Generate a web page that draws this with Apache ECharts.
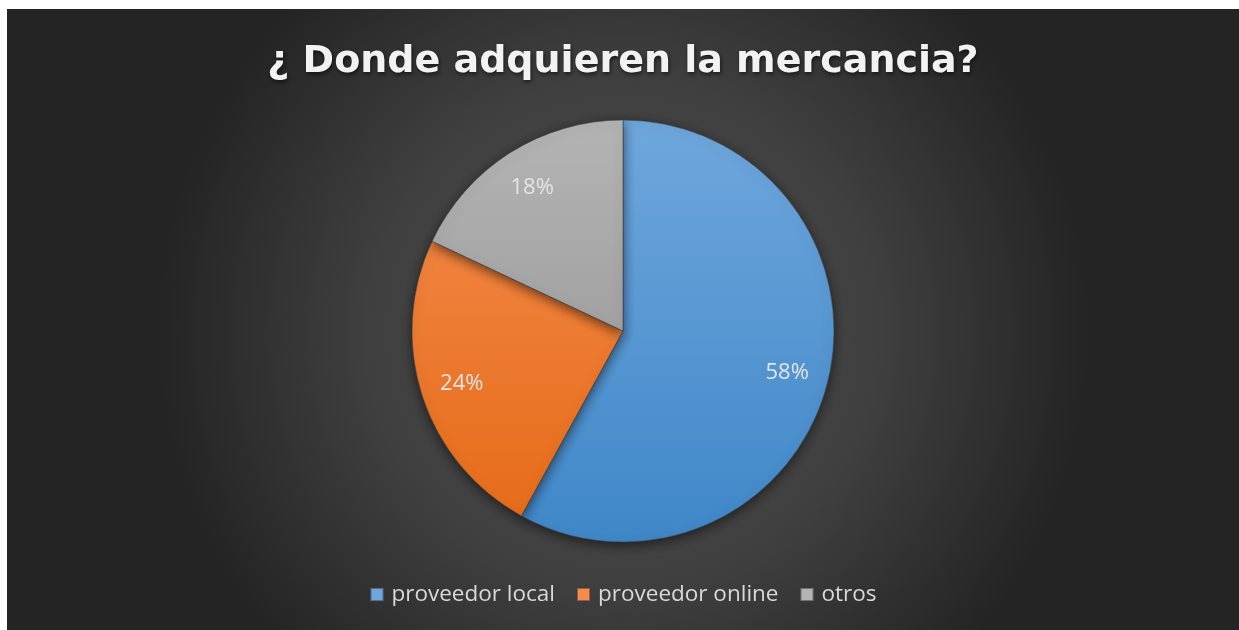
<!DOCTYPE html>
<html>
<head>
<meta charset="utf-8">
<script src="https://cdn.jsdelivr.net/npm/echarts@6/dist/echarts.min.js"></script>
<style>
  html, body { margin: 0; padding: 0; background: #ffffff; }
  #main { position: absolute; left: 7px; top: 9px; width: 1232px; height: 621px; }
</style>
</head>
<body>
<div id="main"></div>
<script>
const titleText = "¿ Donde adquieren la mercancia?";
const categories = ["proveedor local", "proveedor online", "otros"];
const values = [58, 24, 18];

// colores tipo Excel (arriba / abajo del gradiente)
const topColors = ["#6fa7dc", "#f58c4e", "#b4b4b4"];
const bottomColors = ["#3f87c8", "#e56a16", "#8f8f8f"];

const cx = 616, cy = 322, r = 211;

function grad(i) {
  return {
    type: "linear", global: true,
    x: 0, y: cy - r, x2: 0, y2: cy + r,
    colorStops: [
      { offset: 0, color: topColors[i] },
      { offset: 1, color: bottomColors[i] },
    ],
  };
}

const pieData = categories.map((name, i) => ({
  name,
  value: values[i],
  itemStyle: { color: grad(i) },
}));

const option = {
  animation: false,
  backgroundColor: {
    type: "radial", x: 0.5, y: 0.52, r: 0.75,
    colorStops: [
      { offset: 0, color: "#535353" },
      { offset: 0.55, color: "#3f3f3f" },
      { offset: 1, color: "#242424" },
    ],
  },
  title: {
    text: titleText,
    left: "center",
    top: 29,
    textStyle: {
      fontFamily: "DejaVu Sans",
      fontWeight: "bold",
      fontSize: 38,
      color: "#f2f2f2",
      textShadowColor: "rgba(0,0,0,0.6)",
      textShadowBlur: 4,
      textShadowOffsetX: 1,
      textShadowOffsetY: 2,
    },
  },
  legend: {
    data: categories,
    left: "center",
    top: 569,
    itemWidth: 13,
    itemHeight: 13,
    itemGap: 21,
    icon: "rect",
    textStyle: {
      fontFamily: "Open Sans",
      fontSize: 22.5,
      color: "#d9d9d9",
      padding: [0, 0, 0, 3],
    },
  },
  series: [
    {
      type: "pie",
      center: [cx, cy],
      radius: [0, r],
      startAngle: 90,
      clockwise: true,
      label: { show: false },
      labelLine: { show: false },
      itemStyle: {
        borderColor: "rgba(60,60,60,0.55)",
        borderWidth: 1,
        shadowBlur: 12,
        shadowColor: "rgba(0,0,0,0.55)",
        shadowOffsetY: 3,
      },
      emphasis: { disabled: true },
      data: pieData,
    },
    {
      // capa transparente solo para colocar las etiquetas mas afuera
      type: "pie",
      silent: true,
      center: [cx, cy],
      radius: [122, r],
      startAngle: 90,
      clockwise: true,
      itemStyle: { color: "rgba(0,0,0,0)" },
      label: {
        show: true,
        position: "inside",
        formatter: "{d}%",
        fontFamily: "Open Sans",
        fontSize: 22,
        color: "#e4e4e4",
      },
      labelLine: { show: false },
      emphasis: { disabled: true },
      data: categories.map((name, i) => ({ name, value: values[i] })),
    },
  ],
};

var myChart = echarts.init(document.getElementById("main"));
myChart.setOption(option);
</script>
</body>
</html>
